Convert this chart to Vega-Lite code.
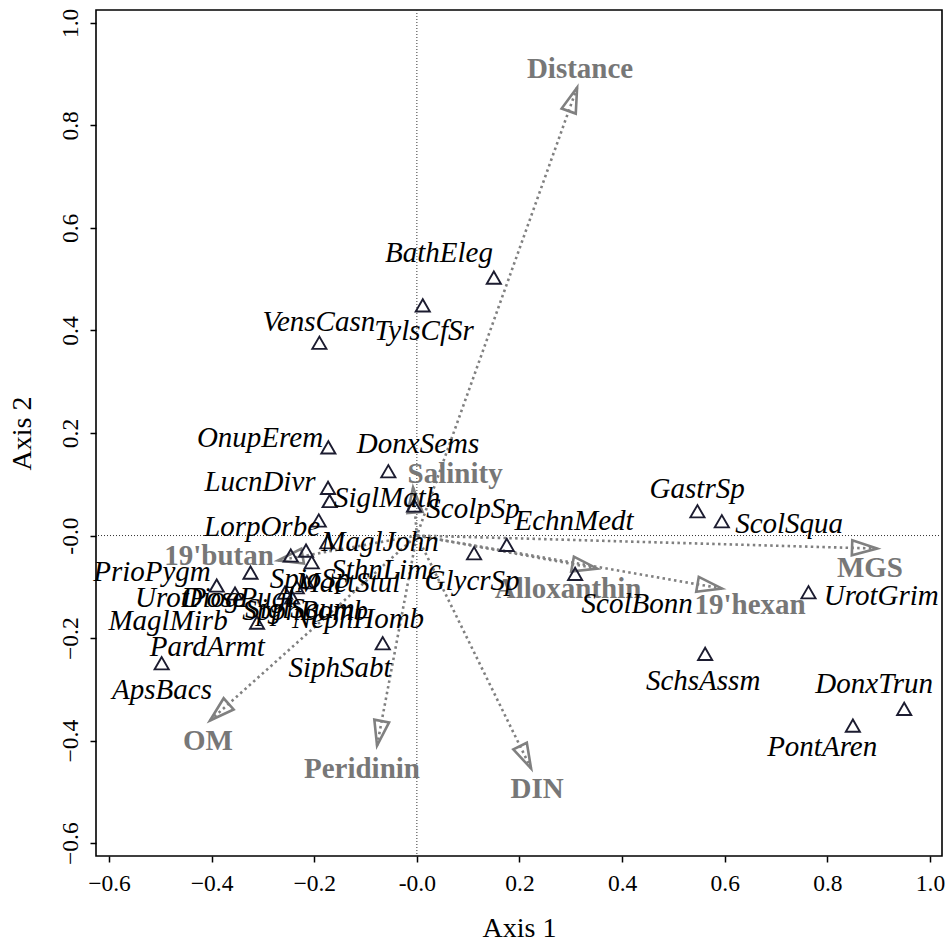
{
  "$schema": "https://vega.github.io/schema/vega-lite/v6.json",
  "width": 846,
  "height": 846,
  "autosize": "none",
  "padding": {"left": 96, "top": 10, "right": 9, "bottom": 88},
  "background": "white",
  "config": {
    "view": {"stroke": "black", "strokeWidth": 1.6},
    "font": "Liberation Serif",
    "axis": {
      "domain": false, "grid": false, "tickColor": "black", "tickWidth": 1.5, "tickSize": 6,
      "labelFont": "Liberation Serif", "labelFontSize": 23.5, "labelColor": "black",
      "titleFont": "Liberation Serif", "titleFontSize": 28, "titleFontWeight": "normal", "titleColor": "black"
    }
  },
  "datasets": {
    "species": [
      {"name": "BathEleg", "x": 0.150, "y": 0.503, "lx": 0.043, "ly": 0.552},
      {"name": "TylsCfSr", "x": 0.0115, "y": 0.449, "lx": 0.014, "ly": 0.398},
      {"name": "VensCasn", "x": -0.190, "y": 0.376, "lx": -0.191, "ly": 0.417},
      {"name": "OnupErem", "x": -0.1725, "y": 0.172, "lx": -0.3057, "ly": 0.191},
      {"name": "DonxSems", "x": -0.0556, "y": 0.1254, "lx": 0.0023, "ly": 0.1794},
      {"name": "LucnDivr", "x": -0.1731, "y": 0.093, "lx": -0.3057, "ly": 0.1053},
      {"name": "SiglMath", "x": -0.170, "y": 0.0673, "lx": -0.0581, "ly": 0.0741},
      {"name": "LorpOrbe", "x": -0.1912, "y": 0.0293, "lx": -0.3018, "ly": 0.0176},
      {"name": "MaglJohn", "x": -0.1745, "y": -0.0131, "lx": -0.0717, "ly": -0.0117},
      {"name": "ScolpSp", "x": -0.0055, "y": 0.0585, "lx": 0.1095, "ly": 0.0527},
      {"name": "EchnMedt", "x": 0.1752, "y": -0.0181, "lx": 0.3064, "ly": 0.0293},
      {"name": "GlycrSp", "x": 0.1115, "y": -0.0345, "lx": 0.1076, "ly": -0.0878},
      {"name": "ScolBonn", "x": 0.3084, "y": -0.0747, "lx": 0.4292, "ly": -0.1326},
      {"name": "GastrSp", "x": 0.5468, "y": 0.0474, "lx": 0.5462, "ly": 0.0917},
      {"name": "ScolSqua", "x": 0.5943, "y": 0.0279, "lx": 0.7255, "ly": 0.0234},
      {"name": "UrotGrim", "x": 0.7632, "y": -0.1106, "lx": 0.9049, "ly": -0.117},
      {"name": "SchsAssm", "x": 0.5618, "y": -0.2307, "lx": 0.5579, "ly": -0.2828},
      {"name": "DonxTrun", "x": 0.9497, "y": -0.338, "lx": 0.8912, "ly": -0.2886},
      {"name": "PontAren", "x": 0.8497, "y": -0.3706, "lx": 0.7899, "ly": -0.4115},
      {"name": "PrioPygm", "x": -0.3242, "y": -0.0722, "lx": -0.5162, "ly": -0.0702},
      {"name": "UrotPose", "x": -0.3901, "y": -0.0975, "lx": -0.4418, "ly": -0.1209},
      {"name": "DiogPugl", "x": -0.2569, "y": -0.1112, "lx": -0.3489, "ly": -0.1209},
      {"name": "MaglMirb", "x": -0.3544, "y": -0.1131, "lx": -0.4849, "ly": -0.1658},
      {"name": "PardArmt", "x": -0.3115, "y": -0.1697, "lx": -0.4084, "ly": -0.2165},
      {"name": "ApsBacs", "x": -0.4973, "y": -0.249, "lx": -0.4967, "ly": -0.3003},
      {"name": "SiphSabt", "x": -0.0665, "y": -0.210, "lx": -0.1497, "ly": -0.2574},
      {"name": "NephHomb", "x": -0.2341, "y": -0.1008, "lx": -0.1146, "ly": -0.1619},
      {"name": "SthnLimc", "x": -0.2049, "y": -0.0521, "lx": -0.060, "ly": -0.0663},
      {"name": "SpioSp", "x": -0.2458, "y": -0.039, "lx": -0.2081, "ly": -0.0839},
      {"name": "MactStul", "x": -0.216, "y": -0.0293, "lx": -0.1341, "ly": -0.0917},
      {"name": "SpphBomb", "x": -0.2146, "y": -0.0911, "lx": -0.2179, "ly": -0.1463},
      {"name": "SiglSqum", "x": -0.2433, "y": -0.1209, "lx": -0.2277, "ly": -0.1424}
    ],
    "env": [
      {"name": "Distance", "x": 0.3123, "y": 0.8738, "lx": 0.3181, "ly": 0.9108},
      {"name": "Salinity", "x": -0.0074, "y": 0.0936, "lx": 0.0745, "ly": 0.1209},
      {"name": "MGS", "x": 0.8968, "y": -0.0254, "lx": 0.883, "ly": -0.0624},
      {"name": "19'hexan", "x": 0.5949, "y": -0.1034, "lx": 0.6495, "ly": -0.1346},
      {"name": "Alloxanthin", "x": 0.3513, "y": -0.0644, "lx": 0.2947, "ly": -0.1034},
      {"name": "19'butan", "x": -0.2706, "y": -0.0488, "lx": -0.3856, "ly": -0.039},
      {"name": "OM", "x": -0.4031, "y": -0.3608, "lx": -0.407, "ly": -0.3998},
      {"name": "Peridinin", "x": -0.0776, "y": -0.4096, "lx": -0.107, "ly": -0.4544},
      {"name": "DIN", "x": 0.2226, "y": -0.4544, "lx": 0.2343, "ly": -0.4934}
    ]
  },
  "layer": [
    {
      "data": {"values": [{}]},
      "mark": {"type": "rule", "strokeDash": [1, 2], "color": "#333333", "strokeWidth": 1},
      "encoding": {
        "x": {"datum": 0, "type": "quantitative",
          "scale": {"domain": [-0.6253, 1.0234], "nice": false, "zero": false},
          "title": "Axis 1",
          "axis": {"values": [-0.6, -0.4, -0.2, 0, 0.2, 0.4, 0.6, 0.8, 1.0], "labelPadding": 9, "titlePadding": 20,
            "labelExpr": "abs(datum.value) < 1e-9 ? '-0.0' : format(datum.value, '.1f')"}
        }
      }
    },
    {
      "data": {"values": [{}]},
      "mark": {"type": "rule", "strokeDash": [1, 2], "color": "#333333", "strokeWidth": 1},
      "encoding": {
        "y": {"datum": 0, "type": "quantitative",
          "scale": {"domain": [-0.625, 1.025], "nice": false, "zero": false},
          "title": "Axis 2",
          "axis": {"values": [-0.6, -0.4, -0.2, 0, 0.2, 0.4, 0.6, 0.8, 1.0], "labelAngle": -90, "labelAlign": "center", "labelBaseline": "bottom", "labelPadding": 8, "titlePadding": 22,
            "labelExpr": "abs(datum.value) < 1e-9 ? '-0.0' : format(datum.value, '.1f')"}
        }
      }
    },
    {
      "data": {"name": "env"},
      "mark": {"type": "rule", "strokeDash": [2.5, 3.3], "color": "#808080", "strokeWidth": 2.6},
      "encoding": {
        "x": {"field": "x", "type": "quantitative", "title": "Axis 1"},
        "y": {"field": "y", "type": "quantitative", "title": "Axis 2"},
        "x2": {"datum": 0},
        "y2": {"datum": 0}
      }
    },
    {
      "data": {"name": "env"},
      "transform": [{"calculate": "atan2(-datum.y, datum.x) * 180 / PI", "as": "ang"}],
      "mark": {"type": "point", "shape": "M0,0L-2,-0.6L-2,0.6Z", "filled": false, "stroke": "#808080", "strokeWidth": 2.6, "size": 625, "opacity": 1},
      "encoding": {
        "x": {"field": "x", "type": "quantitative", "title": "Axis 1"},
        "y": {"field": "y", "type": "quantitative", "title": "Axis 2"},
        "angle": {"field": "ang", "type": "quantitative", "scale": null}
      }
    },
    {
      "data": {"name": "env"},
      "mark": {"type": "text", "font": "Liberation Serif", "fontWeight": "bold", "fontSize": 29, "color": "#777777", "align": "center", "baseline": "middle"},
      "encoding": {
        "x": {"field": "lx", "type": "quantitative", "title": "Axis 1"},
        "y": {"field": "ly", "type": "quantitative", "title": "Axis 2"},
        "text": {"field": "name"}
      }
    },
    {
      "data": {"name": "species"},
      "mark": {"type": "point", "shape": "triangle-up", "filled": false, "stroke": "#1c1c30", "strokeWidth": 1.9, "size": 200, "opacity": 1},
      "encoding": {
        "x": {"field": "x", "type": "quantitative", "title": "Axis 1"},
        "y": {"field": "y", "type": "quantitative", "title": "Axis 2"}
      }
    },
    {
      "data": {"name": "species"},
      "mark": {"type": "text", "font": "Liberation Serif", "fontStyle": "italic", "fontSize": 29, "color": "black", "align": "center", "baseline": "middle"},
      "encoding": {
        "x": {"field": "lx", "type": "quantitative", "title": "Axis 1"},
        "y": {"field": "ly", "type": "quantitative", "title": "Axis 2"},
        "text": {"field": "name"}
      }
    }
  ]
}
